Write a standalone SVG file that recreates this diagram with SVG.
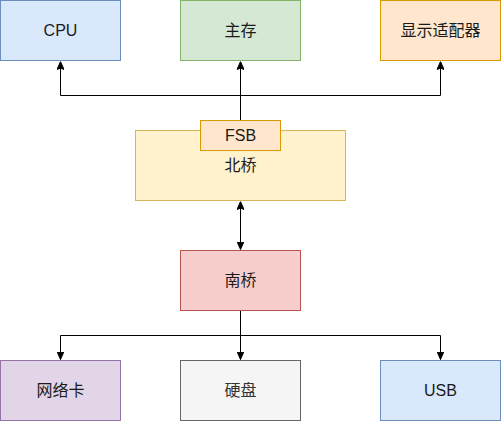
<svg xmlns="http://www.w3.org/2000/svg" width="501" height="421" viewBox="0 0 501 421">
<defs>
<style>
text{font-family:"Liberation Sans","Noto Sans CJK SC",sans-serif;font-size:16px;fill:#1a1a1a;text-anchor:middle;dominant-baseline:central}
.edge{fill:none;stroke:#000;stroke-width:1}
.blue{fill:#dae8fc;stroke:#6c8ebf}
.green{fill:#d5e8d4;stroke:#82b366}
.orange{fill:#ffe6cc;stroke:#d79b00}
.yellow{fill:#fff2cc;stroke:#d6b656}
.red{fill:#f8cecc;stroke:#b85450}
.purple{fill:#e1d5e7;stroke:#9673a6}
.grey{fill:#f5f5f5;stroke:#666666}
</style>
<marker id="arr" viewBox="0 0 8 7" markerWidth="8" markerHeight="7" refX="8" refY="3.5" markerUnits="userSpaceOnUse" orient="auto-start-reverse">
<path d="M0,0 L8,3.5 L0,7 L1.5,3.5 Z" fill="#000" stroke="#000" stroke-width="1"/>
</marker>
</defs>
<g id="connectors">
<path class="edge" d="M240.5,120.5 V95.5 H60.5 V61.5" marker-end="url(#arr)"/>
<path class="edge" d="M240.5,120.5 V61.5" marker-end="url(#arr)"/>
<path class="edge" d="M240.5,120.5 V95.5 H440.5 V61.5" marker-end="url(#arr)"/>
<path class="edge" d="M240.5,201.5 V249.5" marker-start="url(#arr)" marker-end="url(#arr)"/>
<path class="edge" d="M240.5,310.5 V335.5 H60.5 V359.5" marker-end="url(#arr)"/>
<path class="edge" d="M240.5,310.5 V359.5" marker-end="url(#arr)"/>
<path class="edge" d="M240.5,310.5 V335.5 H440.5 V359.5" marker-end="url(#arr)"/>
</g>
<g id="cpu"><rect class="blue" x="0.5" y="0.5" width="120" height="60"/><text x="60.5" y="30.5">CPU</text></g>
<g id="memory"><rect class="green" x="180.5" y="0.5" width="120" height="60"/><text x="240.5" y="30.5">主存</text></g>
<g id="display"><rect class="orange" x="380.5" y="0.5" width="120" height="60"/><text x="440.5" y="30.5">显示适配器</text></g>
<g id="northbridge"><rect class="yellow" x="135.5" y="130.5" width="210" height="70"/><text x="240.5" y="165.5">北桥</text></g>
<g id="fsb"><rect class="orange" x="200.5" y="120.5" width="80" height="30"/><text x="240.5" y="135.5">FSB</text></g>
<g id="southbridge"><rect class="red" x="180.5" y="250.5" width="120" height="60"/><text x="240.5" y="280.5">南桥</text></g>
<g id="nic"><rect class="purple" x="0.5" y="360.5" width="120" height="60"/><text x="60.5" y="390.5">网络卡</text></g>
<g id="disk"><rect class="grey" x="180.5" y="360.5" width="120" height="60"/><text x="240.5" y="390.5" style="fill:#333333">硬盘</text></g>
<g id="usb"><rect class="blue" x="380.5" y="360.5" width="120" height="60"/><text x="440.5" y="390.5">USB</text></g>
</svg>
